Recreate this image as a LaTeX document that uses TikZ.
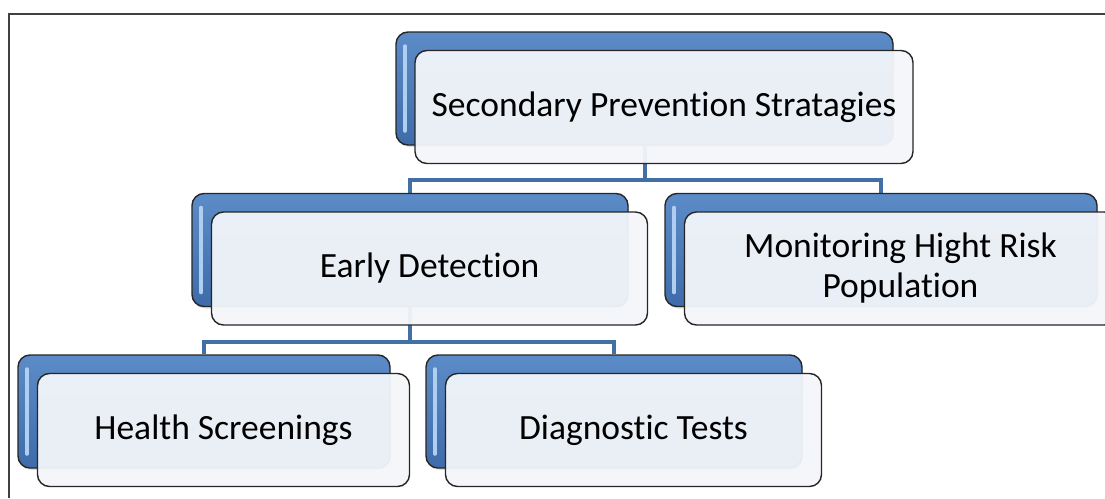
\documentclass[tikz,border=0pt]{standalone}
\usepackage{fontspec}
\setmainfont{Carlito}[Ligatures=NoCommon]
\usetikzlibrary{backgrounds,shadows}
\definecolor{boxtop}{RGB}{92,140,200}
\definecolor{boxbottom}{RGB}{62,108,170}
\definecolor{hilite}{RGB}{176,206,240}
\definecolor{frontfill}{RGB}{243,246,250}
\definecolor{linkblue}{RGB}{66,112,166}
\begin{document}
\begin{tikzpicture}
    [x=1pt, y=-1pt,
     back/.style={draw=black!85, line width=1.4pt, rounded corners=12pt,
       top color=boxtop, bottom color=boxbottom, minimum height=113pt,
       inner sep=0pt, drop shadow={shadow xshift=1pt, shadow yshift=-2pt, opacity=0.25},
       path picture={\draw[hilite, line width=3.5pt, line cap=round]
         ([xshift=9pt, yshift=-14pt]path picture bounding box.north west) --
         ([xshift=9pt, yshift=14pt]path picture bounding box.south west);}},
     front/.style={draw=black!85, line width=1.4pt, rounded corners=12pt,
       fill=frontfill, fill opacity=0.95, text opacity=1, minimum height=113pt,
       inner sep=0pt, align=center, font=\fontsize{35.5}{40}\selectfont},
     link/.style={draw=linkblue, line width=4pt}]
    \def \off {(19.5,18.5)} % offset of the front box

    \useasboundingbox (0,0) rectangle (1105,498);
    \draw[black!75, line width=2pt] (9,498) -- (9,13.5) -- (1105,13.5);

    \node[back, minimum width=497pt] (main-back) at (644.5,88.5) {};
    \node[front, minimum width=498pt] (main) at ([shift={\off}]main-back.center)
      {Secondary Prevention Stratagies};

    \node[back, minimum width=436pt] (early-back) at (410,250) {};
    \node[front, minimum width=436pt] (early) at ([shift={\off}]early-back.center)
      {Early Detection};

    \node[back, minimum width=432pt] (risk-back) at (881,250) {};
    \node[front, minimum width=432pt] (risk) at ([shift={\off}]risk-back.center)
      {Monitoring Hight Risk\\Population};

    \node[back, minimum width=372pt] (screen-back) at (204,411.5) {};
    \node[front, minimum width=372pt] (screen) at ([shift={\off}]screen-back.center)
      {Health Screenings};

    \node[back, minimum width=376pt] (tests-back) at (614,411.5) {};
    \node[front, minimum width=376pt] (tests) at ([shift={\off}]tests-back.center)
      {Diagnostic Tests};

    \begin{pgfonlayer}{background}
      \foreach \c in {early, risk}
        \draw[link] (main-back.south) -- ++(0,34) -| (\c-back.north);
      \foreach \c in {screen, tests}
        \draw[link] (early-back.south) -- ++(0,35) -| (\c-back.north);
    \end{pgfonlayer}
  \end{tikzpicture}
\end{document}
